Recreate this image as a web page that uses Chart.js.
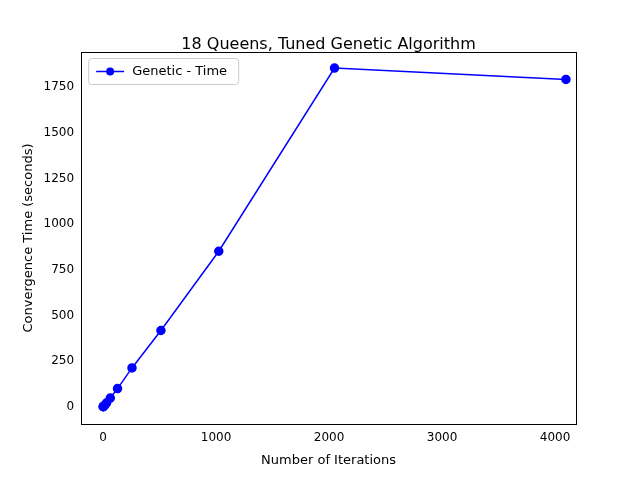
<!DOCTYPE html>
<html><head><meta charset="utf-8">
<script src="https://cdn.jsdelivr.net/npm/chart.js@4"></script>
<style>html,body{margin:0;background:#fff}#w{width:640px;height:480px}</style>
</head><body><div id="w"><canvas id="c" width="640" height="480"></canvas></div>
<script>
const iterations=[1,2,4,8,16,32,64,128,256,512,1024,2048,4096];
const times=[0.5,1,2,5,10,22,48,100,213,418,852,1855,1793];
const yTicks=[0,250,500,750,1000,1250,1500,1750];
const xTicks=[0,1000,2000,3000,4000];
const F="DejaVu Sans";
const deco={id:'deco',afterDraw(ch){
 const c=ch.ctx,a=ch.chartArea;
 c.save();c.strokeStyle='#000';c.lineWidth=1;
 c.strokeRect(Math.round(a.left)+0.5,Math.round(a.top)+0.5,Math.round(a.right-a.left),Math.round(a.bottom-a.top));
 c.fillStyle='#000';c.font='16px '+F;c.textAlign='center';c.textBaseline='alphabetic';
 c.fillText('18 Queens, Tuned Genetic Algorithm',(a.left+a.right)/2,49);
 // legend
 const lx=a.left+7,ly=a.top+6;
 c.strokeStyle='#ccc';c.fillStyle='#fff';c.beginPath();c.roundRect(lx+0.5,ly+0.5,150,26,3);c.fill();c.stroke();
 c.strokeStyle='#0000ff';c.lineWidth=1.5;c.beginPath();c.moveTo(lx+8,ly+13.5);c.lineTo(lx+36,ly+13.5);c.stroke();
 c.fillStyle='#0000ff';c.beginPath();c.arc(lx+22,ly+13.5,4,0,Math.PI*2);c.fill();
 c.fillStyle='#000';c.font='13px '+F;c.textAlign='left';c.textBaseline='middle';
 c.fillText('Genetic - Time',lx+44,ly+14);
 c.restore();}};
new Chart(document.getElementById('c'),{
type:'scatter',
data:{datasets:[{label:'Genetic - Time',data:iterations.map((x,i)=>({x,y:times[i]})),
showLine:true,borderColor:'#0000ff',backgroundColor:'#0000ff',borderWidth:1.5,pointRadius:4,pointHoverRadius:4}]},
options:{responsive:false,animation:false,
layout:{padding:{left:17,right:64,top:52,bottom:8}},
plugins:{legend:{display:false},title:{display:false},tooltip:{enabled:false}},
scales:{
x:{type:'linear',min:-194,max:4185,afterBuildTicks:a=>{a.ticks=xTicks.map(v=>({value:v}))},
grid:{display:false,drawTicks:true,tickLength:4,tickColor:'#000'},border:{color:'#000'},
ticks:{color:'#000',font:{family:F,size:12},maxRotation:0,callback:v=>String(v)},
title:{display:true,text:'Number of Iterations',color:'#000',font:{family:F,size:13}}},
y:{min:-94,max:1943,afterBuildTicks:a=>{a.ticks=yTicks.map(v=>({value:v}))},
grid:{display:false,drawTicks:true,tickLength:4,tickColor:'#000'},border:{color:'#000'},
ticks:{color:'#000',font:{family:F,size:12},callback:v=>String(v)},
title:{display:true,text:'Convergence Time (seconds)',color:'#000',font:{family:F,size:13}}}
}},plugins:[deco]});
</script></body></html>
